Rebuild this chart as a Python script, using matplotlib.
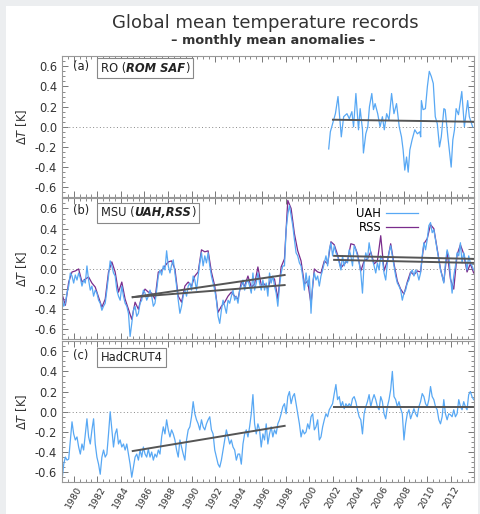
import numpy as np
import matplotlib
matplotlib.use('Agg')
import matplotlib.pyplot as plt
from matplotlib.patches import Rectangle
from matplotlib.offsetbox import TextArea, HPacker, AnchoredOffsetbox
from matplotlib.ticker import MultipleLocator

# ---- data (temperature anomalies, K) ----
ro_years = [2001.64, 2001.78, 2002.21, 2002.43, 2002.71, 2002.91, 2003.19, 2003.39, 2003.61, 2003.75,
            2003.95, 2004.17, 2004.31, 2004.51, 2004.59, 2004.79, 2004.96, 2005.10, 2005.30, 2005.44,
            2005.58, 2005.80, 2006.00, 2006.20, 2006.36, 2006.56, 2006.76, 2006.98, 2007.18, 2007.40,
            2007.63, 2007.82, 2007.96, 2008.10, 2008.25, 2008.39, 2008.53, 2008.72, 2008.95, 2009.17,
            2009.37, 2009.45, 2009.51, 2009.65, 2009.85, 2010.02, 2010.18, 2010.35, 2010.52, 2010.69,
            2010.86, 2011.05, 2011.20, 2011.42, 2011.53, 2011.76, 2012.04, 2012.18, 2012.32, 2012.46,
            2012.66, 2012.94, 2013.16, 2013.44, 2013.58, 2013.86]
ro = [-0.22, -0.05, 0.13, 0.30, -0.10, 0.10, 0.13, 0.08, 0.15, 0.00,
      0.33, -0.03, 0.18, -0.03, -0.26, -0.07, 0.00, 0.20, 0.33, 0.17,
      0.23, 0.13, 0.00, 0.10, -0.03, 0.13, 0.07, 0.33, 0.13, 0.23,
      0.00, -0.10, -0.23, -0.43, -0.30, -0.45, -0.23, -0.13, -0.03, -0.07,
      -0.05, -0.10, 0.26, 0.17, 0.18, 0.40, 0.55, 0.50, 0.43, 0.10,
      0.03, -0.20, -0.10, 0.18, 0.17, -0.10, -0.40, -0.13, -0.03, 0.18,
      0.12, 0.35, 0.00, 0.26, 0.10, 0.00]

uah = [-0.27, -0.37, -0.34, -0.24, -0.17, -0.04, -0.07, -0.14, -0.06, -0.11,
       -0.04, -0.09, -0.17, -0.11, -0.14, 0.03, -0.11, -0.21, -0.17, -0.27,
       -0.21, -0.24, -0.31, -0.34, -0.41, -0.37, -0.34, -0.21, -0.07, 0.08,
       0.03, -0.04, -0.07, -0.21, -0.27, -0.31, -0.17, -0.27, -0.34, -0.37,
       -0.44, -0.67, -0.54, -0.41, -0.37, -0.47, -0.44, -0.34, -0.31, -0.21,
       -0.24, -0.31, -0.27, -0.21, -0.27, -0.37, -0.34, -0.21, -0.07, -0.01,
       -0.06, 0.03, -0.01, 0.18, 0.03, -0.04, 0.04, 0.09, -0.04, -0.17,
       -0.31, -0.44, -0.37, -0.27, -0.21, -0.27, -0.17, -0.14, -0.21, -0.07,
       -0.11, -0.21, -0.07, 0.06, 0.16, 0.03, 0.13, 0.06, 0.16, 0.03,
       -0.07, -0.14, -0.21, -0.31, -0.47, -0.54, -0.41, -0.31, -0.37, -0.44,
       -0.31, -0.34, -0.27, -0.21, -0.31, -0.27, -0.34, -0.21, -0.17, -0.11,
       -0.21, -0.14, -0.11,
       -0.17, -0.24, -0.04, -0.21, -0.14, -0.04, -0.14, -0.21, -0.11, -0.21,
       -0.14, -0.27, -0.04, -0.14, -0.07, -0.17, -0.24, -0.37, -0.17, -0.04,
       0.03, 0.03, 0.39, 0.54, 0.63, 0.53, 0.43, 0.29, 0.16, 0.13,
       0.06, 0.03, -0.07, -0.21, -0.04, -0.17, -0.07, -0.44, -0.14, -0.04,
       -0.11, -0.07, -0.17, -0.07, -0.01, 0.06, 0.13, 0.03, 0.19, 0.26,
       0.13, 0.23, 0.16, 0.13, 0.06, -0.01, 0.13, 0.03, 0.09, 0.06,
       0.19, 0.13, 0.03, 0.23, 0.19, 0.13, 0.06, -0.04, -0.24, 0.06,
       0.16, 0.09, 0.26, 0.16, 0.09, 0.03, -0.04, 0.06, -0.01, 0.13,
       0.09, -0.04, -0.11, 0.06, 0.16, 0.23, 0.13, 0.03, -0.07, -0.14,
       -0.17, -0.21, -0.31, -0.24, -0.21, -0.14, -0.11, -0.04, -0.01, -0.07,
       -0.01, -0.04, -0.11, -0.04, 0.13, 0.26, 0.19, 0.29, 0.43, 0.46,
       0.36, 0.39, 0.29, 0.19, 0.09, -0.01, -0.07, -0.14, 0.06, 0.19,
       0.13, -0.07, -0.24, -0.07, 0.03, 0.16, 0.13, 0.26, 0.06, 0.16,
       0.09, -0.01, 0.13, 0.06, 0.03, -0.01]

rss = [-0.25, -0.36, -0.13, -0.03, -0.02, 0.00, -0.13, -0.10, -0.08, -0.14,
       -0.18, -0.28, -0.38, -0.30, -0.03, 0.07, -0.03, -0.23, -0.13, -0.30,
       -0.40, -0.50, -0.33, -0.40, -0.27, -0.20, -0.23, -0.24, -0.30, -0.03,
       -0.02, 0.03, 0.07, 0.08, 0.00, -0.27, -0.33, -0.17, -0.13, -0.17,
       -0.07, -0.03, 0.19, 0.17, 0.18, -0.03, -0.17, -0.43, -0.37, -0.33,
       -0.27, -0.23, -0.27, -0.30, -0.13, -0.17, -0.07,
       -0.18, -0.15, 0.02, -0.16, -0.15, -0.20, -0.08, -0.10, -0.30, 0.02,
       0.10, 0.68, 0.60, 0.35, 0.18, 0.08, -0.15, -0.12, -0.35, 0.00,
       -0.03, -0.04, 0.08, 0.05, 0.27, 0.24, 0.14, 0.01, 0.05, 0.08,
       0.25, 0.24, 0.15, -0.02, 0.08, 0.10, 0.17, 0.05, 0.08, 0.33,
       -0.02, 0.08, 0.25, 0.05, -0.12, -0.20, -0.25, -0.13, -0.03, -0.06,
       -0.02, -0.03, 0.25, 0.30, 0.44, 0.40, 0.20, 0.00, -0.13, 0.17,
       -0.10, -0.20, 0.14, 0.24, 0.15, -0.03, 0.05, -0.04]

hadcrut = [-0.68, -0.52, -0.45, -0.48, -0.47, -0.28, -0.10, -0.22, -0.28, -0.25,
           -0.35, -0.42, -0.32, -0.38, -0.22, -0.07, -0.25, -0.32, -0.18, -0.07,
           -0.32, -0.45, -0.52, -0.62, -0.45, -0.38, -0.45, -0.42, -0.22, 0.00,
           -0.18, -0.35, -0.22, -0.17, -0.32, -0.28, -0.35, -0.32, -0.38, -0.32,
           -0.42, -0.52, -0.65, -0.55, -0.45, -0.42, -0.48, -0.38, -0.45, -0.35,
           -0.42, -0.45, -0.37, -0.45, -0.40, -0.48, -0.42, -0.45, -0.38, -0.42,
           -0.25, -0.15, -0.22, -0.08, -0.18, -0.25, -0.18, -0.22, -0.28, -0.38,
           -0.45, -0.28, -0.35, -0.42, -0.48, -0.28, -0.18, -0.15, -0.05, 0.10,
           -0.02, -0.08, -0.12, -0.18, -0.08, -0.15, -0.18, -0.12, -0.08, -0.05,
           -0.18, -0.22, -0.38, -0.45, -0.52, -0.55, -0.48, -0.38, -0.28, -0.18,
           -0.25, -0.32, -0.28, -0.35, -0.38, -0.48, -0.42,
           -0.42, -0.52, -0.32, -0.22, -0.18, -0.25, -0.15, -0.02, 0.17, -0.12,
           -0.22, -0.12, -0.18, -0.35, -0.22, -0.28, -0.12, -0.32, -0.22, -0.15,
           -0.25, -0.18, -0.22, -0.12, -0.08, -0.02, 0.05, 0.08, -0.02, 0.15,
           0.20, 0.08, 0.15, 0.18, 0.08, -0.02, -0.12, -0.25, -0.18, -0.22,
           -0.20, -0.12, -0.17, -0.05, -0.02, -0.18, -0.15, -0.08, -0.28, -0.25,
           -0.15, -0.08, -0.02, -0.05, 0.02, 0.05, 0.08, 0.18, 0.27, 0.12,
           0.15, 0.05, 0.10, 0.03, 0.08, 0.05, 0.08, 0.05, 0.13, 0.15,
           0.10, 0.02, -0.05, -0.08, -0.22, -0.02, 0.05, 0.10, 0.17, 0.05,
           0.12, 0.17, 0.12, 0.05, 0.02, 0.15, 0.10, -0.02, -0.07, 0.05,
           0.12, 0.22, 0.40, 0.15, 0.12, 0.05, 0.10, 0.03, -0.02, -0.28,
           -0.12, -0.02, 0.02, -0.07, -0.02, 0.03, -0.02, -0.05, 0.05, 0.10,
           0.18, 0.15, 0.08, 0.05, 0.12, 0.25, 0.15, 0.12, 0.05, 0.02,
           -0.08, -0.12, -0.05, 0.12, -0.02, -0.08, -0.02, -0.03, -0.05, 0.02,
           -0.05, -0.02, 0.12, 0.05, 0.02, 0.10, 0.05, 0.02, 0.17, 0.20,
           0.15, 0.12]

# trend lines: (start year, end year, start value, end value)
trend_ro = [(2002.0, 2013.9, 0.07, 0.05)]
trend_msu = [(1985.0, 1997.9, -0.28, -0.06), (1985.0, 1997.9, -0.28, -0.16),
             (2002.1, 2013.9, 0.13, 0.10), (2002.1, 2013.9, 0.09, 0.06)]
trend_had = [(1985.0, 1997.9, -0.39, -0.14), (2002.1, 2013.9, 0.045, 0.045)]

start, end = 1979.0, 2013.95
blue = '#58a8f4'
purple = '#7a2c8c'
grey = '#555555'

fig = plt.figure(figsize=(4.81, 5.14), dpi=100)
fig.patch.set_facecolor('#eceef0')
fig.patches.append(Rectangle((6 / 481, 0), 472 / 481, 1 - 6 / 514, transform=fig.transFigure,
                             facecolor='white', edgecolor='none', zorder=-1))

left, width, h = 0.129, 0.857, 0.2745
ax_a = fig.add_axes([left, 0.6161, width, h])
ax_b = fig.add_axes([left, 0.3395, width, h])
ax_c = fig.add_axes([left, 0.0617, width, h])


def boxed(ax, parts, y=0.975):
    boxes = [TextArea(t, textprops=dict(fontsize=8.3, color='#222', fontweight=w, fontstyle=s))
             for t, w, s in parts]
    pk = HPacker(children=boxes, align='baseline', pad=0, sep=0)
    ab = AnchoredOffsetbox(loc='upper left', child=pk, pad=0.25, borderpad=0,
                           bbox_to_anchor=(0.085, y), bbox_transform=ax.transAxes, frameon=True)
    ab.patch.set_edgecolor('#888888')
    ab.patch.set_linewidth(0.8)
    ax.add_artist(ab)


for ax in (ax_a, ax_b, ax_c):
    ax.set_xlim(1979, 2014)
    ax.set_ylim(-0.7, 0.7)
    ax.axhline(0, color='#888888', lw=0.7, ls=(0, (1, 2.5)))
    ax.yaxis.set_major_locator(MultipleLocator(0.2))
    ax.yaxis.set_minor_locator(MultipleLocator(0.05))
    ax.xaxis.set_major_locator(MultipleLocator(2))
    ax.xaxis.set_minor_locator(MultipleLocator(0.5))
    ax.tick_params(which='both', direction='in', top=True, right=True, colors='#777777',
                   labelcolor='#333333', labelsize=8.3)
    ax.tick_params(which='major', length=4, width=0.7)
    ax.tick_params(which='minor', length=2, width=0.6)
    ax.yaxis.set_major_formatter(matplotlib.ticker.FuncFormatter(
        lambda v, p: '%.1f' % v if abs(v) > 1e-9 else '0.0'))
    for sp in ax.spines.values():
        sp.set_color('#999999')
        sp.set_linewidth(0.8)
    ax.set_ylabel('Δ$\\it{T}$ [K]', fontsize=8.3, color='#333333', labelpad=4)
    if ax is not ax_c:
        ax.tick_params(labelbottom=False)

# (a) RO
ax_a.plot(ro_years, ro, color=blue, lw=0.9)
for x0, x1, y0, y1 in trend_ro:
    ax_a.plot([x0, x1], [y0, y1], color=grey, lw=1.4)
ax_a.text(0.046, 0.93, '(a)', transform=ax_a.transAxes, fontsize=8.3, color='#222',
          ha='center', va='center')
boxed(ax_a, [('RO (', 'normal', 'normal'), ('ROM SAF', 'bold', 'italic'), (')', 'normal', 'normal')], 0.985)

# (b) MSU
t_msu = np.linspace(start, end, len(uah))
t_rss = np.linspace(start, end, len(rss))
l_rss, = ax_b.plot(t_rss, rss, color=purple, lw=0.9)
l_uah, = ax_b.plot(t_msu, uah, color=blue, lw=0.9)
for x0, x1, y0, y1 in trend_msu:
    ax_b.plot([x0, x1], [y0, y1], color=grey, lw=1.4)
ax_b.text(0.046, 0.915, '(b)', transform=ax_b.transAxes, fontsize=8.3, color='#222',
          ha='center', va='center')
boxed(ax_b, [('MSU (', 'normal', 'normal'), ('UAH,RSS', 'bold', 'italic'), (')', 'normal', 'normal')], 0.97)
ax_b.legend([l_uah, l_rss], ['UAH', 'RSS'], loc='upper right', bbox_to_anchor=(0.875, 0.975),
            frameon=False, markerfirst=False, handlelength=2.8, fontsize=8.3,
            labelspacing=0.1, borderaxespad=0, handletextpad=0.4)

# (c) HadCRUT4
t_had = np.linspace(start, end, len(hadcrut))
ax_c.plot(t_had, hadcrut, color=blue, lw=0.9)
for x0, x1, y0, y1 in trend_had:
    ax_c.plot([x0, x1], [y0, y1], color=grey, lw=1.4)
ax_c.text(0.046, 0.9, '(c)', transform=ax_c.transAxes, fontsize=8.3, color='#222',
          ha='center', va='center')
boxed(ax_c, [('HadCRUT4', 'normal', 'normal')], 0.955)
ax_c.set_xticks(np.arange(1980, 2014, 2))
ax_c.tick_params(axis='x', which='major', pad=2)
for lab in ax_c.get_xticklabels():
    lab.set_rotation(60)
    lab.set_ha('center')
    lab.set_fontsize(6.8)

fig.text(0.552, 0.955, 'Global mean temperature records', ha='center', va='center',
         fontsize=13, color='#333333')
fig.text(0.568, 0.922, '– monthly mean anomalies –', ha='center', va='center',
         fontsize=9.3, color='#333333', fontweight='semibold')

fig.savefig('out.png', dpi=100, facecolor=fig.get_facecolor())
